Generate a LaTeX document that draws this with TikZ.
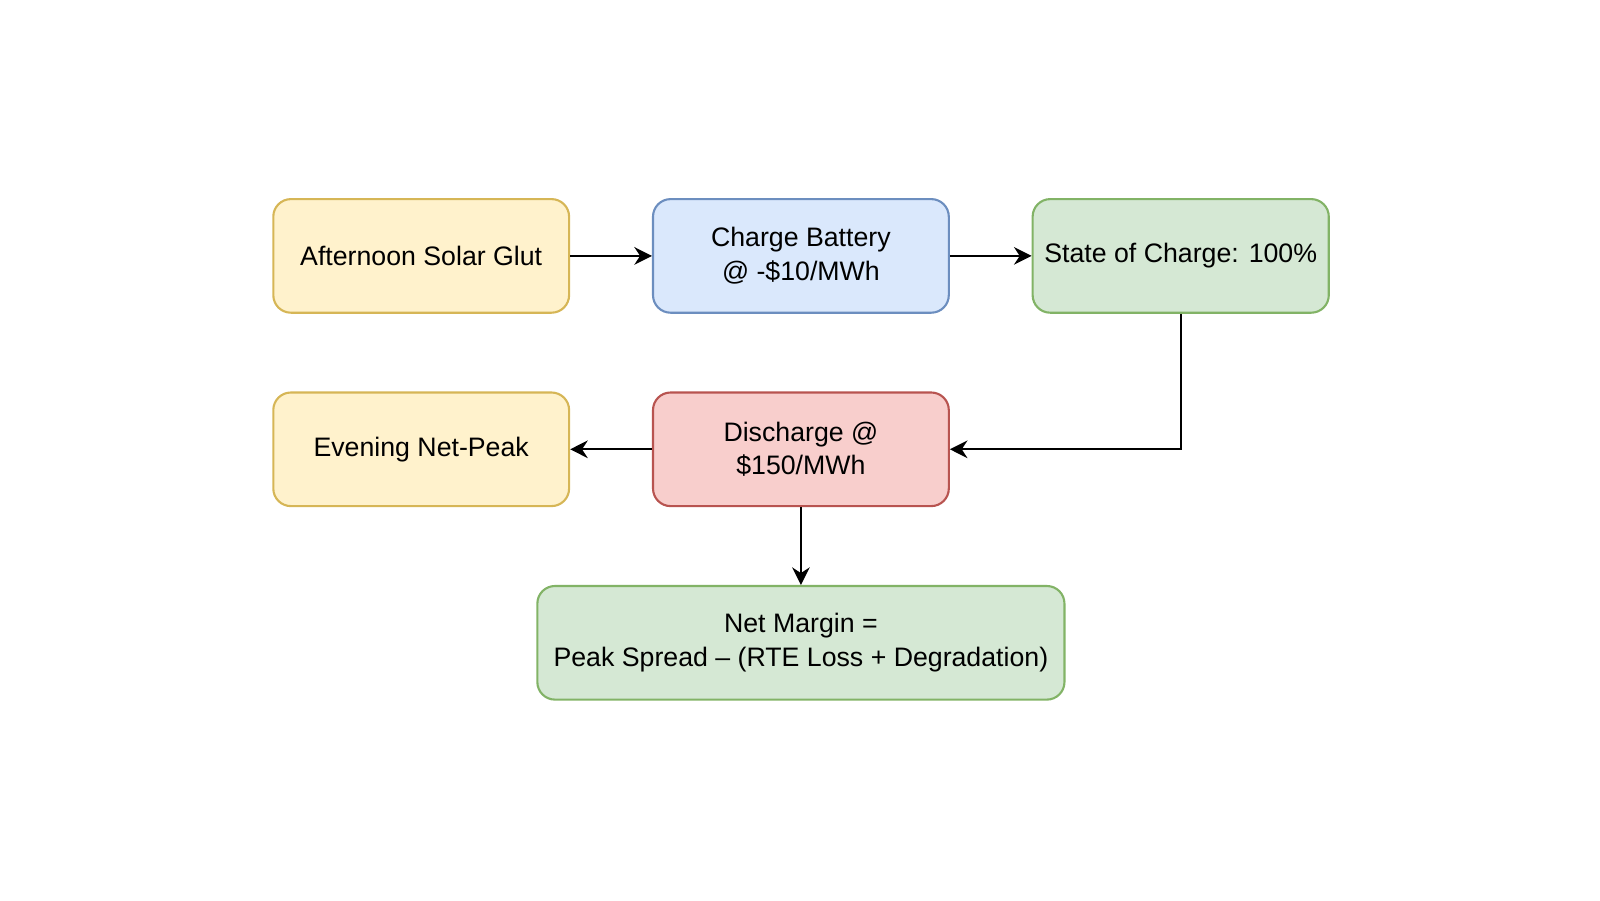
\documentclass[tikz,border=0pt]{standalone}
\usepackage{fontspec}
\setmainfont{Liberation Sans}
\usetikzlibrary{arrows.meta}
\definecolor{yelfill}{HTML}{FFF2CC}\definecolor{yeldraw}{HTML}{D6B656}
\definecolor{bluefill}{HTML}{DAE8FC}\definecolor{bluedraw}{HTML}{6C8EBF}
\definecolor{grnfill}{HTML}{D5E8D4}\definecolor{grndraw}{HTML}{82B366}
\definecolor{redfill}{HTML}{F8CECC}\definecolor{reddraw}{HTML}{B85450}
\tikzset{
    box/.style = {draw, rounded corners = 5pt, line width = 0.6pt, minimum width = 2.958cm,
        minimum height = 1.136cm, align = center, font = \fontsize{7.6}{9.6}\selectfont},
    flow/.style = {-{Stealth[length = 5pt, width = 5pt]}, line width = 0.6pt}
}
\begin{document}
\begin{tikzpicture}
        \useasboundingbox (0,0) rectangle (16,9);
        \node[box, fill = yelfill, draw = yeldraw] (glut) at (4.212,6.441) {Afternoon Solar Glut};
        \node[box, fill = bluefill, draw = bluedraw] (charge) at (8.009,6.441) {Charge Battery\\@ -\$10/MWh};
        \node[box, fill = grnfill, draw = grndraw] (soc) at (11.807,6.441) {State of Charge: 100\%};
        \node[box, fill = yelfill, draw = yeldraw] (peak) at (4.212,4.507) {Evening Net-Peak};
        \node[box, fill = redfill, draw = reddraw] (discharge) at (8.009,4.507) {Discharge @\\\$150/MWh};
        \node[box, fill = grnfill, draw = grndraw, minimum width = 5.271cm] (margin) at (8.009,2.572)
            {Net Margin =\\Peak Spread -- (RTE Loss + Degradation)};
        \draw[flow] (glut) -- (charge);
        \draw[flow] (charge) -- (soc);
        \draw[flow] (soc.south) |- (discharge.east);
        \draw[flow] (discharge) -- (peak);
        \draw[flow] (discharge) -- (margin);
\end{tikzpicture}
\end{document}
